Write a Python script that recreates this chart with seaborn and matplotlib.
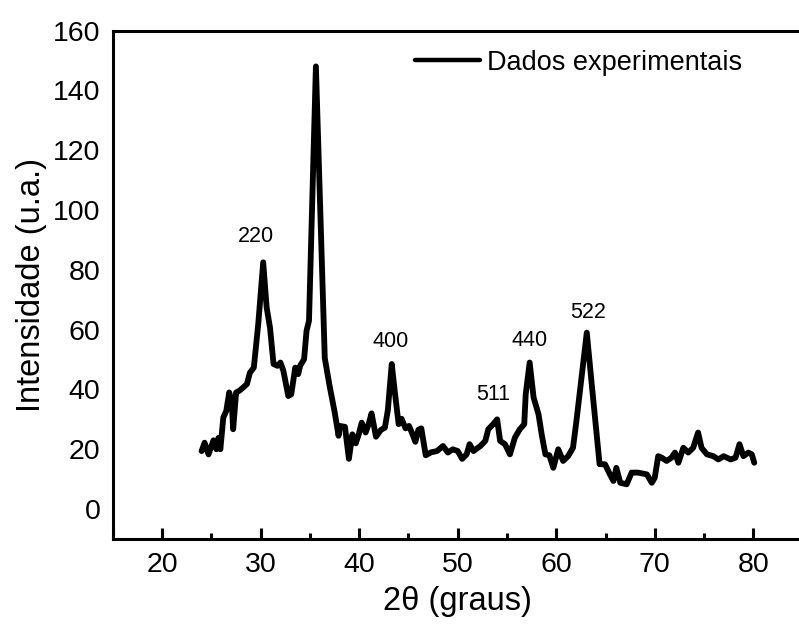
import matplotlib
matplotlib.use("Agg")
import matplotlib.pyplot as plt
from matplotlib.ticker import MultipleLocator
import seaborn as sns
import pandas as pd

# Diffraction pattern (2theta in degrees, intensity in arbitrary units)
two_theta = [
    24.0, 24.3, 24.7, 25.2, 25.5, 25.7, 25.9, 26.2, 26.5, 26.8, 27.05, 27.2,
    27.5, 27.8, 28.2, 28.6, 28.9, 29.3, 29.75, 30.25, 30.6, 30.94, 31.3, 31.7,
    32.0, 32.3, 32.8, 33.1, 33.5, 33.8, 34.0, 34.4, 34.65, 34.9, 35.6, 36.5,
    37.0, 37.5, 37.9, 38.05, 38.55, 38.95, 39.3, 39.65, 39.95, 40.25, 40.65,
    40.95, 41.25, 41.7, 42.2, 42.6, 42.9, 43.3, 43.6, 44.0, 44.3, 44.7, 45.05,
    45.35, 45.7, 46.0, 46.3, 46.75, 47.3, 47.9, 48.5, 49.0, 49.5, 50.0, 50.45,
    50.9, 51.2, 51.6, 52.3, 52.8, 53.1, 53.6, 54.0, 54.3, 54.8, 55.3, 55.8,
    56.3, 56.75, 56.9, 57.3, 57.7, 58.2, 58.55, 58.9, 59.3, 59.7, 60.2, 60.7,
    61.2, 61.7, 62.05, 62.6, 63.1, 63.6, 64.1, 64.4, 64.95, 65.45, 65.8, 66.1,
    66.5, 67.15, 67.65, 68.3, 69.2, 69.7, 70.0, 70.35, 70.7, 71.2, 71.7, 72.05,
    72.4, 72.9, 73.4, 73.9, 74.4, 74.75, 75.3, 75.95, 76.45, 77.0, 77.7, 78.2,
    78.6, 79.0, 79.5, 79.85, 80.1,
]
intensity = [
    19.4, 22.2, 18.3, 23.0, 20.0, 23.8, 20.0, 30.6, 32.8, 39.0, 36.0, 26.7,
    39.0, 39.5, 40.6, 41.8, 45.6, 47.3, 62.0, 82.5, 67.4, 60.7, 48.5, 47.9,
    49.0, 46.2, 37.8, 38.4, 47.3, 45.1, 47.9, 50.1, 59.6, 63.0, 148.0, 50.5,
    41.0, 32.5, 24.5, 27.8, 27.5, 16.8, 25.0, 22.0, 25.0, 28.9, 25.6,
    28.4, 32.0, 24.2, 26.5, 27.2, 33.0, 48.5, 39.5, 28.4, 30.2, 27.0, 27.8,
    25.5, 22.5, 26.5, 27.0, 18.0, 19.0, 19.4, 21.1, 18.9, 20.0, 19.4, 16.8,
    18.3, 21.7, 19.4, 21.1, 22.8, 26.7, 28.4, 30.0, 22.8, 21.7, 18.3, 23.9,
    26.7, 28.4, 38.4, 49.0, 37.3, 31.7, 24.4, 18.3, 18.0, 13.8, 20.0, 16.1,
    17.7, 20.5, 29.5, 45.1, 59.0, 41.8, 25.0, 15.0, 15.0, 11.6, 9.4, 13.8,
    8.8, 8.3, 12.2, 12.2, 11.6, 8.8, 10.5, 17.7, 17.2, 16.1, 17.2, 18.9,
    15.5, 20.5, 18.9, 20.5, 25.6, 20.5, 18.3, 17.7, 16.6, 17.7, 16.6, 17.2,
    21.7, 17.7, 18.9, 18.3, 15.5,
]

# Reflection indices and where their labels sit
hkl_labels = ["220", "400", "511", "440", "522"]
hkl_x = [29.5, 43.2, 53.6, 57.3, 63.2]
hkl_y = [91.0, 56.0, 38.4, 56.3, 65.7]

sns.set_theme(style="white", rc={
    "text.color": "black", "axes.labelcolor": "black",
    "xtick.color": "black", "ytick.color": "black",
})
plt.rcParams["font.family"] = ["Liberation Sans", "DejaVu Sans"]

df = pd.DataFrame({"2theta": two_theta, "I": intensity})

fig = plt.figure(figsize=(7.99, 6.28), dpi=100)
ax = fig.add_axes([0.1414, 0.1417, 0.863, 0.8097])

sns.lineplot(data=df, x="2theta", y="I", ax=ax, color="black", linewidth=4.2,
             label="Dados experimentais", sort=False)

for lab, xv, yv in zip(hkl_labels, hkl_x, hkl_y):
    ax.text(xv, yv, lab, ha="center", va="center", fontsize=15.5, color="black")

ax.set_xlim(15, 85)
ax.set_ylim(-10, 160)
ax.xaxis.set_major_locator(MultipleLocator(10))
ax.xaxis.set_minor_locator(MultipleLocator(5))
ax.yaxis.set_major_locator(MultipleLocator(20))
ax.set_xticks([20, 30, 40, 50, 60, 70, 80])

ax.tick_params(axis="x", which="major", direction="in", length=8, width=2.2,
               labelsize=20.5, pad=9, color="black", bottom=True)
ax.tick_params(axis="x", which="minor", direction="in", length=4.5, width=2.2,
               color="black", bottom=True)
ax.tick_params(axis="y", which="major", length=0, labelsize=20.5, pad=9)

for side in ["left", "bottom", "top", "right"]:
    ax.spines[side].set_visible(True)
    ax.spines[side].set_color("black")
    ax.spines[side].set_linewidth(2.2)

ax.set_xlabel("2θ (graus)", fontsize=23.5, labelpad=6)
ax.set_ylabel("Intensidade (u.a.)", fontsize=23.5, labelpad=4)

leg = ax.legend(loc="upper right", bbox_to_anchor=(0.948, 1.01), frameon=False,
                fontsize=19.5, handlelength=2.4, handletextpad=0.26)
for h in leg.get_lines():
    h.set_linewidth(3.2)

fig.savefig("out.png", dpi=100)
